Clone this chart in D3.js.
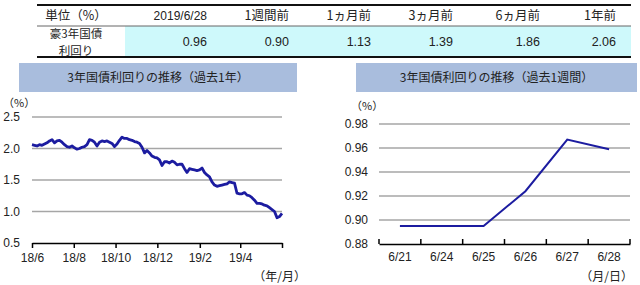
<!doctype html>
<html lang="ja">
  <head>
    <meta charset="utf-8">
    <title>3年国債利回り</title>
    <style>
      body{ margin:0; background:#fff; }
      svg text{ font-family:"Liberation Sans","Noto Sans CJK JP",sans-serif; fill:#222; }
      .jp{ font-family:"Noto Sans CJK JP",sans-serif; }
    </style>
  </head>
  <body>
    <svg id="chart" width="640" height="285"></svg>
    <script src="https://d3js.org/d3.v7.min.js"></script>
    <script>
      // table
      var tableHeaders = ["2019/6/28", "1週間前", "1ヵ月前", "3ヵ月前", "6ヵ月前", "1年前"];
      var tableValues = [0.96, 0.90, 1.13, 1.39, 1.86, 2.06];

      // past year (evenly spaced from 2018/6/28 to 2019/6/28)
      var yearValues = [2.06, 2.05, 2.04, 2.06, 2.05, 2.07, 2.09, 2.12, 2.14, 2.09,
                        2.12, 2.13, 2.10, 2.06, 2.03, 2.02, 2.04, 2.01, 1.99, 2.00,
                        2.02, 2.03, 2.06, 2.14, 2.13, 2.10, 2.04, 2.10, 2.12, 2.11,
                        2.12, 2.10, 2.08, 2.03, 2.07, 2.13, 2.18, 2.16, 2.16, 2.14,
                        2.13, 2.11, 2.10, 2.08, 2.02, 1.93, 1.97, 1.93, 1.88, 1.86,
                        1.85, 1.82, 1.73, 1.79, 1.79, 1.77, 1.80, 1.78, 1.74, 1.75,
                        1.75, 1.68, 1.62, 1.68, 1.67, 1.66, 1.65, 1.66, 1.69, 1.62,
                        1.58, 1.55, 1.47, 1.42, 1.40, 1.41, 1.42, 1.43, 1.44, 1.47,
                        1.46, 1.45, 1.29, 1.28, 1.28, 1.30, 1.26, 1.25, 1.22, 1.18,
                        1.13, 1.13, 1.12, 1.10, 1.09, 1.06, 1.03, 1.00, 0.90, 0.92,
                        0.97];
      var yearStart = new Date(2018, 5, 28);
      var yearEnd = new Date(2019, 5, 28);
      var yearTicks = [0.5, 1.0, 1.5, 2.0, 2.5];

      // past week
      var weekDays = ["6/21", "6/24", "6/25", "6/26", "6/27", "6/28"];
      var weekValues = [0.895, 0.895, 0.895, 0.924, 0.967, 0.959];
      var weekTicks = [0.88, 0.90, 0.92, 0.94, 0.96, 0.98];

      var svg = d3.select("#chart");
      var lineColor = "#1c1ca0";

      //---- table ----
      var colRight = [207, 289, 371, 453, 540, 616];

      svg.append("rect").attr("x", 125).attr("y", 26).attr("width", 506).attr("height", 31)
        .attr("fill", "#cef9fb");
      svg.append("line").attr("x1", 37).attr("x2", 631).attr("y1", 5).attr("y2", 5)
        .attr("stroke", "#111").attr("stroke-width", 2);
      svg.append("line").attr("x1", 37).attr("x2", 631).attr("y1", 26).attr("y2", 26)
        .attr("stroke", "#666").attr("stroke-width", 1);
      svg.append("line").attr("x1", 37).attr("x2", 631).attr("y1", 57).attr("y2", 57)
        .attr("stroke", "#111").attr("stroke-width", 2);

      svg.append("text").attr("class", "jp").attr("x", 76).attr("y", 20)
        .attr("text-anchor", "middle").style("font-size", "12.5px").text("単位（%）");
      svg.append("text").attr("class", "jp").attr("x", 76).attr("y", 38)
        .attr("text-anchor", "middle").style("font-size", "11.5px").text("豪3年国債");
      svg.append("text").attr("class", "jp").attr("x", 76).attr("y", 55)
        .attr("text-anchor", "middle").style("font-size", "11.5px").text("利回り");

      svg.selectAll(".hdr").data(tableHeaders).enter().append("text")
        .attr("class", function(d, i){ return i === 0 ? "hdr" : "hdr jp"; })
        .attr("x", function(d, i){ return colRight[i]; })
        .attr("y", 20)
        .attr("text-anchor", "end")
        .style("font-size", function(d, i){ return i === 0 ? "12px" : "12.5px"; })
        .text(function(d){ return d; });

      svg.selectAll(".val").data(tableValues).enter().append("text")
        .attr("class", "val")
        .attr("x", function(d, i){ return colRight[i]; })
        .attr("y", 46)
        .attr("text-anchor", "end")
        .style("font-size", "12.5px")
        .text(function(d){ return d.toFixed(2); });

      //---- chart panels ----
      function titleBox(x, w, label){
        svg.append("rect").attr("x", x).attr("y", 63).attr("width", w).attr("height", 29)
          .attr("fill", "#a9bddd");
        svg.append("text").attr("class", "jp").attr("x", x + w / 2).attr("y", 82)
          .attr("text-anchor", "middle").style("font-size", "12px").text(label);
      }

      function grid(g, y, ticks, x0, x1){
        g.selectAll(".grid").data(ticks.slice(1)).enter().append("line")
          .attr("x1", x0).attr("x2", x1)
          .attr("y1", function(d){ return y(d); })
          .attr("y2", function(d){ return y(d); })
          .attr("stroke", "#a6a6a6").attr("stroke-width", 1.5);
      }

      //left: past year
      titleBox(19, 278, "3年国債利回りの推移（過去1年）");

      var xL = d3.scaleTime().domain([yearStart, yearEnd]).range([32, 282]);
      var yL = d3.scaleLinear().domain([0.5, 2.5]).range([243, 117]);
      var left = svg.append("g");
      grid(left, yL, yearTicks, 32, 282);

      var tickDates = d3.range(0, 13, 2).map(function(m){ return d3.timeMonth.offset(yearStart, m); });
      left.append("g").attr("transform", "translate(0,243)")
        .call(d3.axisBottom(xL).tickValues(tickDates).tickSize(5).tickSizeOuter(0)
          .tickFormat(function(d, i){ return i < 6 ? d3.timeFormat("%y/")(d) + (d.getMonth() + 1) : ""; }))
        .call(function(g){
          g.select(".domain").attr("stroke", "#000").attr("stroke-width", 1.5);
          g.selectAll(".tick line").attr("stroke", "#000").attr("stroke-width", 1.5);
          g.selectAll(".tick text").attr("dy", 0).attr("y", 19).style("font-size", "12px")
            .style("font-family", "Liberation Sans").attr("fill", "#222");
        });

      left.selectAll(".ylab").data(yearTicks).enter().append("text")
        .attr("x", 20).attr("y", function(d){ return yL(d) + 4; })
        .attr("text-anchor", "end").style("font-size", "12px")
        .text(function(d){ return d.toFixed(1); });
      left.append("text").attr("class", "jp").attr("x", 3).attr("y", 107)
        .style("font-size", "11px").text("（%）");
      left.append("text").attr("class", "jp").attr("x", 306).attr("y", 281)
        .attr("text-anchor", "end").style("font-size", "12px").text("（年/月）");

      var step = (yearEnd - yearStart) / (yearValues.length - 1);
      left.append("path").datum(yearValues)
        .attr("fill", "none").attr("stroke", lineColor).attr("stroke-width", 2.8)
        .attr("stroke-linejoin", "round")
        .attr("d", d3.line()
          .x(function(d, i){ return xL(new Date(+yearStart + i * step)); })
          .y(function(d){ return yL(d); }));

      //right: past week
      titleBox(356, 281, "3年国債利回りの推移（過去1週間）");

      var xR = d3.scaleBand().domain(weekDays).range([379, 630]);
      var yR = d3.scaleLinear().domain([0.88, 0.98]).range([244, 124]);
      var right = svg.append("g");
      grid(right, yR, weekTicks, 379, 630);

      right.append("g").attr("transform", "translate(0,244)")
        .call(d3.axisBottom(xR).tickSize(0).tickSizeOuter(0))
        .call(function(g){
          g.select(".domain").attr("stroke", "#000").attr("stroke-width", 1.5);
          g.selectAll(".tick text").attr("dy", 0).attr("y", 17).style("font-size", "12px")
            .style("font-family", "Liberation Sans").attr("fill", "#222");
        });
      right.selectAll(".btick").data(weekDays.concat(["end"])).enter().append("line")
        .attr("x1", function(d, i){ return 379 + i * xR.step(); })
        .attr("x2", function(d, i){ return 379 + i * xR.step(); })
        .attr("y1", 244).attr("y2", 239)
        .attr("stroke", "#000").attr("stroke-width", 1.5);

      right.selectAll(".ylab").data(weekTicks).enter().append("text")
        .attr("x", 368).attr("y", function(d){ return yR(d) + 4; })
        .attr("text-anchor", "end").style("font-size", "12px")
        .text(function(d){ return d.toFixed(2); });
      right.append("text").attr("class", "jp").attr("x", 351).attr("y", 110)
        .style("font-size", "11px").text("（%）");
      right.append("text").attr("class", "jp").attr("x", 633).attr("y", 281)
        .attr("text-anchor", "end").style("font-size", "12px").text("（月/日）");

      right.append("path").datum(weekValues)
        .attr("fill", "none").attr("stroke", lineColor).attr("stroke-width", 2)
        .attr("d", d3.line()
          .x(function(d, i){ return xR(weekDays[i]) + xR.bandwidth() / 2; })
          .y(function(d){ return yR(d); }));
    </script>
  </body>
</html>
